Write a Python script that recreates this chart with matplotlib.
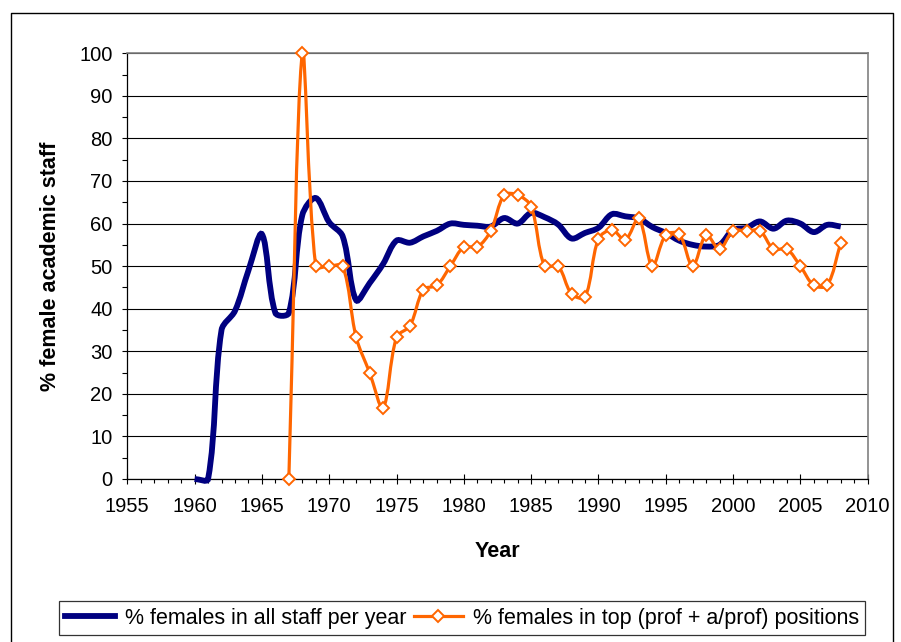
import matplotlib.pyplot as plt
from matplotlib.path import Path
from matplotlib.patches import PathPatch
from matplotlib.lines import Line2D

plt.rcParams['font.family'] = ['Liberation Sans', 'DejaVu Sans']

# all staff, one value per year
all_years = list(range(1960, 2009))
all_staff = [0, 0, 35, 39.5, 49, 57.5, 39, 39, 62, 66,
             60.3, 57, 42, 46, 50.5, 56, 55.5, 57, 58.3, 60,
             59.7, 59.5, 59.3, 61.3, 60, 62.5, 61.5, 59.8, 56.5, 57.8,
             59, 62.2, 61.7, 61.2, 59.2, 57.8, 56, 55, 54.6, 55,
             58.5, 59, 60.5, 58.8, 60.7, 60, 58, 59.7, 59.3]

# top positions (prof + a/prof)
top_years = list(range(1967, 2009))
top_staff = [0, 100, 50, 50, 50, 33.3, 25, 16.7, 33.3, 36,
             44.5, 45.5, 50, 54.5, 54.5, 58.3, 66.7, 66.7, 64, 50,
             50, 43.5, 42.7, 56.4, 58.5, 56.2, 61.2, 50, 57.3, 57.5,
             50, 57.3, 54, 58.3, 58.3, 58.3, 54, 54, 50, 45.5,
             45.5, 55.5]

navy = '#000080'
orange = '#FF6600'

fig = plt.figure(figsize=(9.01, 6.42), dpi=100)
ax = fig.add_axes([0.1413, 0.2539, 0.8217, 0.6631])
ax.set_xlim(1955, 2010)
ax.set_ylim(0, 100)


def smooth(x, y):
    # Excel style smoothed line: bezier, tangents weighted by screen distance
    px = ax.transData.transform(list(zip(x, y)))

    def dist(i, j):
        return ((px[i][0] - px[j][0]) ** 2 + (px[i][1] - px[j][1]) ** 2) ** 0.5

    verts = [(x[0], y[0])]
    codes = [Path.MOVETO]
    n = len(x)
    for i in range(n - 1):
        a = i - 1 if i > 0 else i
        b = i + 2 if i + 2 < n else i + 1
        d01, d12, d23 = dist(a, i), dist(i, i + 1), dist(i + 1, b)
        f1 = d12 / (d01 + d12) / 3 if d01 + d12 > 0 else 0
        f2 = d12 / (d12 + d23) / 3 if d12 + d23 > 0 else 0
        verts.append((x[i] + (x[i + 1] - x[a]) * f1, y[i] + (y[i + 1] - y[a]) * f1))
        verts.append((x[i + 1] - (x[b] - x[i]) * f2, y[i + 1] - (y[b] - y[i]) * f2))
        verts.append((x[i + 1], y[i + 1]))
        codes += [Path.CURVE4] * 3
    return Path(verts, codes)


ax.add_patch(PathPatch(smooth(all_years, all_staff), facecolor='none',
                       edgecolor=navy, lw=4.2, zorder=3, clip_on=False))
ax.add_patch(PathPatch(smooth(top_years, top_staff), facecolor='none',
                       edgecolor=orange, lw=2.3, zorder=4))
ax.plot(top_years, top_staff, linestyle='none', marker='D', ms=5.8,
        mfc='white', mec=orange, mew=1.4, zorder=5, clip_on=False)

ax.set_xticks(range(1955, 2011, 5))
ax.set_xticks(range(1955, 2011), minor=True)
ax.set_yticks(range(0, 101, 10))
ax.set_yticks(range(0, 101, 5), minor=True)

ax.yaxis.grid(True, color='black', lw=0.8)
ax.set_axisbelow(True)
for s in ['top', 'right']:
    ax.spines[s].set_color('#808080')
    ax.spines[s].set_linewidth(1.2)
for s in ['left', 'bottom']:
    ax.spines[s].set_linewidth(0.9)

ax.tick_params(axis='x', which='major', direction='inout', length=6.5,
               width=0.8, labelsize=14.5, pad=10)
ax.tick_params(axis='x', which='minor', direction='out', length=3,
               width=0.8)
ax.tick_params(axis='y', which='both', direction='out', length=3.5,
               width=0.8, labelsize=14.5, pad=7)

ax.set_xlabel('Year', fontsize=15.5, fontweight='bold', labelpad=18)
ax.set_ylabel('% female academic staff', fontsize=15.5, fontweight='bold',
              labelpad=13)

handles = [Line2D([], [], color=navy, lw=4.2),
           Line2D([], [], color=orange, lw=2.3, marker='D', ms=5.8,
                  mfc='white', mec=orange, mew=1.4)]
labels = ['% females in all staff per year',
          '% females in top (prof + a/prof) positions']
leg = fig.legend(handles, labels, loc='center', bbox_to_anchor=(0.513, 0.037),
                 ncol=2, fontsize=15.5, frameon=True, fancybox=False,
                 handlelength=2.3, handletextpad=0.45, columnspacing=0.35,
                 borderpad=0.3, borderaxespad=0)
leg.get_frame().set_edgecolor('black')
leg.get_frame().set_linewidth(0.9)

# outer chart border
fig.add_artist(Line2D([11 / 901, 11 / 901, 893 / 901, 893 / 901],
                      [-0.01, 1 - 13 / 642, 1 - 13 / 642, -0.01],
                      color='black', lw=1, transform=fig.transFigure))

fig.savefig('out.png', dpi=100)
